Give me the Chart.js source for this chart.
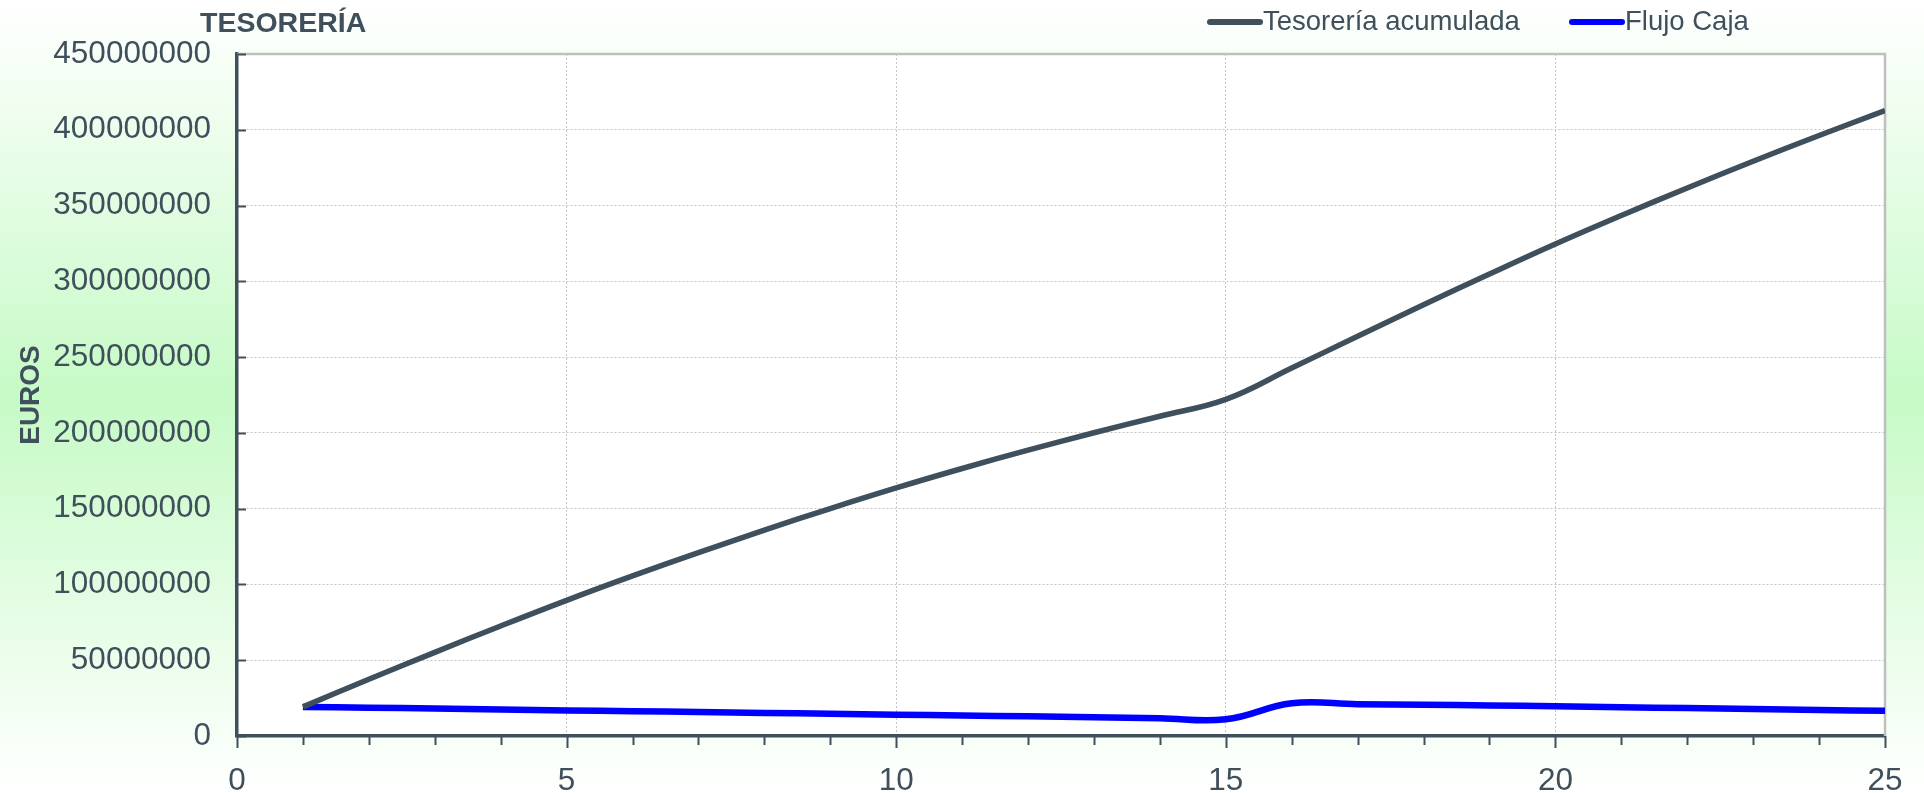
<!DOCTYPE html>
<html>
<head>
<meta charset="utf-8">
<title>Tesorería</title>
<script src="https://cdn.jsdelivr.net/npm/chart.js@4.4.1/dist/chart.umd.min.js"></script>
<style>
    html, body { margin: 0; padding: 0; overflow: hidden; background: #fff; }
    #wrap { width: 1924px; height: 793px; position: relative; }
</style>
</head>
<body>
<div id="wrap"><canvas id="tesoreriaChart" width="1924" height="793"></canvas></div>
<script>
// Chart data (years and euros)
const years = [1, 2, 3, 4, 5, 6, 7, 8, 9, 10, 11, 12, 13, 14, 15, 16, 17, 18, 19, 20, 21, 22, 23, 24, 25];
const tesoreriaAcumulada = [
    19200000, 37400000, 55200000, 72600000, 89500000,
    105600000, 121000000, 135800000, 150100000, 163700000,
    176500000, 188600000, 200100000, 211000000, 222100000,
    242800000, 263800000, 284500000, 304800000, 324600000,
    343400000, 361600000, 379200000, 396200000, 412600000
];
const flujoCaja = [
    19200000, 18700000, 18100000, 17500000, 16900000,
    16400000, 15800000, 15200000, 14700000, 14100000,
    13500000, 13000000, 12400000, 11700000, 11000000,
    21600000, 21000000, 20700000, 20200000, 19600000,
    19000000, 18400000, 17800000, 17200000, 16600000
];
const seriesLabels = ['Tesorería acumulada', 'Flujo Caja'];
const seriesColors = ['#3f4f5b', '#0000ff'];
const xMax = 25;
const xStep = 5;
const yMax = 450000000;
const yStep = 50000000;

const TEXT_COLOR = '#3f4f5b';
const AXIS_COLOR = '#3f4f5b';
const GRID_COLOR = '#c4c4c4';
const FONT = "'Liberation Sans', Arial, sans-serif";

// Background, frame, tick marks, title and legend
const chartDecor = {
    id: 'chartDecor',
    beforeDraw(chart) {
        const { ctx, width, height, chartArea: a } = chart;
        const g = ctx.createLinearGradient(0, 0, 0, height);
        g.addColorStop(0, '#ffffff');
        g.addColorStop(0.5, '#c6fac6');
        g.addColorStop(1, '#ffffff');
        ctx.save();
        ctx.fillStyle = g;
        ctx.fillRect(0, 0, width, height);
        ctx.fillStyle = '#ffffff';
        ctx.fillRect(a.left, a.top, a.right - a.left, a.bottom - a.top);
        ctx.restore();
    },
    beforeDatasetsDraw(chart) {
        const { ctx, chartArea: a, scales } = chart;
        ctx.save();
        // light frame at top and right
        ctx.strokeStyle = '#bfbfbf';
        ctx.lineWidth = 2.5;
        ctx.beginPath();
        ctx.moveTo(a.left, a.top);
        ctx.lineTo(a.right, a.top);
        ctx.lineTo(a.right, a.bottom);
        ctx.stroke();

        // y tick marks point into the plot
        ctx.strokeStyle = AXIS_COLOR;
        ctx.lineWidth = 2;
        scales.y.ticks.forEach(t => {
            const y = Math.round(scales.y.getPixelForValue(t.value)) + 0.5;
            ctx.beginPath();
            ctx.moveTo(a.left, y);
            ctx.lineTo(a.left + 9, y);
            ctx.stroke();
        });
        // x tick marks every year, longer on labelled ones
        for (let v = 0; v <= xMax; v++) {
            const x = Math.round(scales.x.getPixelForValue(v)) + 0.5;
            const len = v % xStep === 0 ? 12 : 9;
            ctx.beginPath();
            ctx.moveTo(x, a.bottom);
            ctx.lineTo(x, a.bottom + len);
            ctx.stroke();
        }
        ctx.restore();
    },
    afterDraw(chart) {
        const { ctx } = chart;
        ctx.save();
        ctx.fillStyle = TEXT_COLOR;
        ctx.textBaseline = 'middle';
        ctx.font = 'bold 28.5px ' + FONT;
        ctx.textAlign = 'left';
        ctx.fillText('TESORERÍA', 200, 24);

        // legend
        ctx.font = '27.5px ' + FONT;
        const items = [{ x: 1207 }, { x: 1569 }];
        chart.data.datasets.forEach((ds, i) => {
            const x0 = items[i].x;
            ctx.strokeStyle = ds.borderColor;
            ctx.lineWidth = 6;
            ctx.lineCap = 'round';
            ctx.beginPath();
            ctx.moveTo(x0 + 3, 22);
            ctx.lineTo(x0 + 53, 22);
            ctx.stroke();
            ctx.fillText(ds.label, x0 + 56, 22);
        });
        ctx.restore();
    }
};

new Chart(document.getElementById('tesoreriaChart').getContext('2d'), {
    type: 'line',
    data: {
        datasets: [
            {
                label: seriesLabels[0],
                data: years.map((x, i) => ({ x, y: tesoreriaAcumulada[i] })),
                borderColor: seriesColors[0],
                borderWidth: 5.5,
                tension: 0.4,
                pointRadius: 0,
                fill: false
            },
            {
                label: seriesLabels[1],
                data: years.map((x, i) => ({ x, y: flujoCaja[i] })),
                borderColor: seriesColors[1],
                borderWidth: 6.5,
                tension: 0.4,
                pointRadius: 0,
                fill: false
            }
        ]
    },
    options: {
        responsive: false,
        animation: false,
        devicePixelRatio: 1,
        layout: { padding: { top: 54, right: 39, left: 0, bottom: 0 } },
        plugins: {
            legend: { display: false },
            title: { display: false },
            tooltip: { enabled: false }
        },
        scales: {
            x: {
                type: 'linear',
                min: 0,
                max: xMax,
                afterFit(scale) {
                    scale.height = 57;
                    scale.paddingLeft = 0;
                    scale.paddingRight = 0;
                },
                ticks: {
                    stepSize: xStep,
                    color: TEXT_COLOR,
                    padding: 26,
                    font: { family: FONT, size: 31.5 }
                },
                grid: {
                    drawTicks: false,
                    lineWidth: 1,
                    color: c => (c.tick && c.tick.value > 0 && c.tick.value < xMax) ? GRID_COLOR : 'rgba(0,0,0,0)'
                },
                border: { display: true, color: AXIS_COLOR, width: 3.5, dash: [2, 2] }
            },
            y: {
                min: 0,
                max: yMax,
                afterFit(scale) {
                    scale.width = 237;
                    scale.paddingTop = 0;
                    scale.paddingBottom = 0;
                },
                ticks: {
                    stepSize: yStep,
                    color: TEXT_COLOR,
                    padding: 26,
                    font: { family: FONT, size: 31.5 },
                    callback: v => String(v)
                },
                grid: {
                    drawTicks: false,
                    lineWidth: 1,
                    color: c => (c.tick && c.tick.value > 0 && c.tick.value < yMax) ? GRID_COLOR : 'rgba(0,0,0,0)'
                },
                border: { display: true, color: AXIS_COLOR, width: 3.5, dash: [2, 2] },
                title: {
                    display: true,
                    text: 'EUROS',
                    color: TEXT_COLOR,
                    font: { family: FONT, size: 28, weight: 'bold' },
                    padding: { top: 14, bottom: 0 }
                }
            }
        }
    },
    plugins: [chartDecor]
});
</script>
</body>
</html>
